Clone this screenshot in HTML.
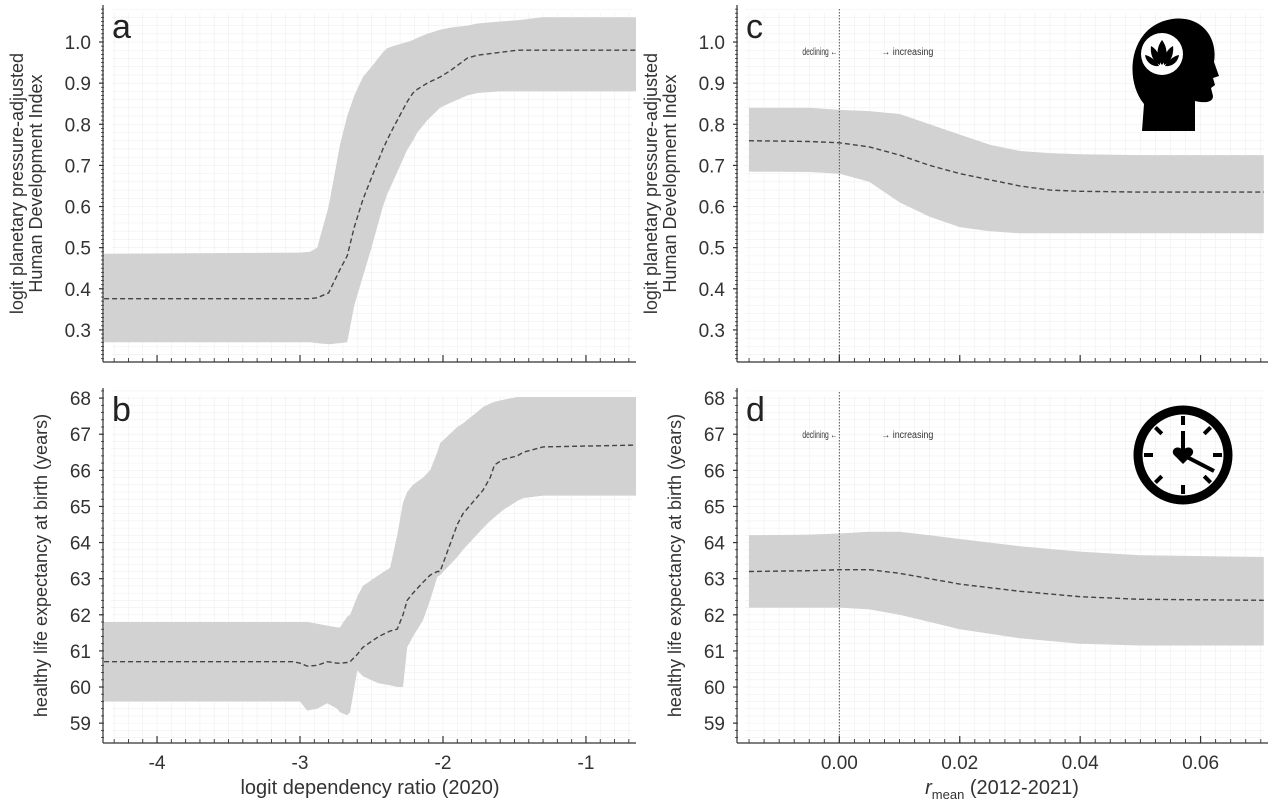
<!DOCTYPE html>
<html><head><meta charset="utf-8"><style>
html,body{margin:0;padding:0;background:#fff;}
svg{display:block;font-family:"Liberation Sans",sans-serif;}
</style></head><body>
<svg id="fig" width="1275" height="804" viewBox="0 0 1275 804" xmlns="http://www.w3.org/2000/svg">
<rect width="1275" height="804" fill="#fff"/>
</svg>
<script>
// ---- data ----
const aX   = [-4.37,-3.0,-2.93,-2.88,-2.8,-2.72,-2.67,-2.62,-2.56,-2.5,-2.42,-2.39,-2.35,-2.25,-2.21,-2.18,-2.11,-2.02,-1.95,-1.83,-1.76,-1.6,-1.48,-1.3,-0.65];
const aMean= [0.376,0.376,0.376,0.378,0.39,0.447,0.48,0.55,0.617,0.67,0.74,0.762,0.79,0.855,0.876,0.885,0.9,0.915,0.93,0.961,0.968,0.975,0.98,0.98,0.98];
const aLo  = [0.27,0.27,0.27,0.268,0.265,0.268,0.27,0.36,0.43,0.50,0.60,0.63,0.66,0.738,0.76,0.78,0.81,0.84,0.852,0.87,0.876,0.88,0.88,0.88,0.88];
const aHi  = [0.485,0.488,0.49,0.50,0.60,0.75,0.82,0.87,0.915,0.94,0.975,0.985,0.99,1.0,1.005,1.01,1.02,1.03,1.035,1.04,1.045,1.05,1.053,1.06,1.06];

const bX   = [-4.37,-3.05,-3.0,-2.95,-2.88,-2.81,-2.74,-2.72,-2.67,-2.65,-2.6,-2.56,-2.45,-2.37,-2.32,-2.28,-2.25,-2.21,-2.14,-2.09,-2.04,-2.02,-1.9,-1.86,-1.72,-1.67,-1.64,-1.58,-1.48,-1.44,-1.3,-0.65];
const bMean= [60.7,60.7,60.66,60.58,60.6,60.7,60.66,60.66,60.68,60.7,60.9,61.1,61.4,61.55,61.6,62.0,62.4,62.6,62.9,63.1,63.2,63.2,64.5,64.8,65.45,65.8,66.15,66.3,66.4,66.5,66.65,66.7];
const bLo  = [59.6,59.6,59.6,59.35,59.4,59.55,59.4,59.3,59.22,59.3,60.46,60.3,60.1,60.05,60.0,60.0,61.1,61.4,61.85,62.4,63.05,63.1,63.6,63.8,64.4,64.6,64.7,64.9,65.15,65.23,65.3,65.3];
const bHi  = [61.8,61.8,61.8,61.8,61.75,61.7,61.65,61.65,61.95,62.0,62.5,62.8,63.1,63.3,64.2,65.1,65.4,65.6,65.8,66.0,66.5,66.75,67.2,67.3,67.75,67.85,67.9,67.95,68.03,68.03,68.03,68.03];

const cX   = [-0.015,-0.005,0.0,0.005,0.01,0.015,0.02,0.025,0.03,0.035,0.04,0.05,0.0705];
const cMean= [0.76,0.758,0.755,0.745,0.725,0.70,0.68,0.665,0.65,0.64,0.637,0.635,0.635];
const cLo  = [0.685,0.684,0.68,0.66,0.61,0.575,0.55,0.54,0.535,0.535,0.535,0.535,0.535];
const cHi  = [0.84,0.84,0.835,0.832,0.825,0.80,0.775,0.75,0.735,0.73,0.727,0.725,0.725];

const dX   = [-0.015,-0.005,0.0,0.005,0.01,0.015,0.02,0.03,0.04,0.05,0.0705];
const dMean= [63.2,63.22,63.25,63.25,63.15,63.0,62.85,62.65,62.5,62.43,62.4];
const dLo  = [62.2,62.2,62.2,62.15,62.0,61.8,61.6,61.35,61.2,61.15,61.15];
const dHi  = [64.2,64.22,64.25,64.3,64.3,64.2,64.1,63.9,63.75,63.65,63.6];

const ticksTopY = ["0.3","0.4","0.5","0.6","0.7","0.8","0.9","1.0"];
const ticksBotY = ["59","60","61","62","63","64","65","66","67","68"];
const ticksLeftX = ["-4","-3","-2","-1"];
const ticksRightX = ["0.00","0.02","0.04","0.06"];

const NS="http://www.w3.org/2000/svg";
const svg=document.getElementById('fig');
function mk(tag,attrs,parent){const e=document.createElementNS(NS,tag);for(const k in attrs)e.setAttribute(k,attrs[k]);(parent||svg).appendChild(e);return e;}

function panel(cfg){
  const g=mk('g',{});
  
  
  const sx=v=>cfg.x0+(v-cfg.xd[0])/(cfg.xd[1]-cfg.xd[0])*(cfg.x1-cfg.x0);
  const sy=v=>cfg.y1-(v-cfg.yd[0])/(cfg.yd[1]-cfg.yd[0])*(cfg.y1-cfg.y0);
  const grid=mk('g',{stroke:'#efefef','stroke-width':0.6},g);
  
  
  for(let v=Math.ceil(cfg.xd[0]/cfg.xMinor)*cfg.xMinor; v<=cfg.xd[1]; v+=cfg.xMinor){
    mk('line',{x1:sx(v),x2:sx(v),y1:cfg.y0+8,y2:cfg.y1-6},grid);
  }
  for(let v=Math.ceil(cfg.yd[0]/cfg.yGrid)*cfg.yGrid; v<=cfg.yd[1]; v+=cfg.yGrid){
    mk('line',{x1:cfg.x0+8,x2:cfg.x1-4,y1:sy(v),y2:sy(v)},grid);
  }
  let d='';
  cfg.X.forEach((x,i)=>{d+=(i?'L':'M')+sx(x).toFixed(1)+','+sy(cfg.hi[i]).toFixed(1);});
  for(let i=cfg.X.length-1;i>=0;i--) d+='L'+sx(cfg.X[i]).toFixed(1)+','+sy(cfg.lo[i]).toFixed(1);
  const band=mk('path',{d:d+'Z',fill:'#d2d2d2'},g);
  
  
  if(cfg.zero){
    const zl=mk('line',{x1:sx(0),x2:sx(0),y1:cfg.y0+4,y2:cfg.y1,stroke:'#555','stroke-width':1,'stroke-dasharray':'1.5,1.5'},g);
    
    
  }
  let m='';
  cfg.X.forEach((x,i)=>{m+=(i?'L':'M')+sx(x).toFixed(1)+','+sy(cfg.mean[i]).toFixed(1);});
  const ml=mk('path',{d:m,fill:'none',stroke:'#444','stroke-width':1.4,'stroke-dasharray':'5,3'},g);
  
  
  const ax=mk('g',{stroke:'#333','stroke-width':1.2},g);
  
  
  mk('line',{x1:cfg.x0,x2:cfg.x0,y1:cfg.y0,y2:cfg.y1},ax);
  mk('line',{x1:cfg.x0,x2:cfg.x1,y1:cfg.y1,y2:cfg.y1},ax);
  for(let v=Math.ceil(cfg.yd[0]/cfg.yMinor)*cfg.yMinor; v<=cfg.yd[1]; v+=cfg.yMinor){
    mk('line',{x1:cfg.x0-2,x2:cfg.x0+1,y1:sy(v),y2:sy(v),'stroke-width':0.8},ax);
  }
  for(let v=Math.ceil(cfg.xd[0]/cfg.xTickMinor)*cfg.xTickMinor; v<=cfg.xd[1]; v+=cfg.xTickMinor){
    mk('line',{x1:sx(v),x2:sx(v),y1:cfg.y1-4,y2:cfg.y1,'stroke-width':0.9},ax);
  }
  cfg.yTicks.forEach(t=>{
    const v=parseFloat(t);
    mk('line',{x1:cfg.x0-4,x2:cfg.x0,y1:sy(v),y2:sy(v)},ax);
    const tx=mk('text',{x:cfg.x0-12,y:sy(v)+7,'text-anchor':'end','font-size':19,fill:'#333'},g);
    tx.textContent=t;
    
    
  });
  cfg.xTicks.forEach(t=>{
    const v=parseFloat(t);
    mk('line',{x1:sx(v),x2:sx(v),y1:cfg.y1-7,y2:cfg.y1},ax);
    if(cfg.showX){
      const tx=mk('text',{x:sx(v),y:cfg.y1+26,'text-anchor':'middle','font-size':19,fill:'#333'},g);
      tx.textContent=t;
      
      
    }
  });
  const lt=mk('text',{x:cfg.x0+9,y:cfg.y0+33,'font-size':34,fill:'#222'},g);
  lt.textContent=cfg.id;
  
  
  const cy=(cfg.y0+cfg.y1)/2;
  cfg.yTitle.forEach((line,i)=>{
    const xx=cfg.x0-cfg.titleOff[i];
    const tt=mk('text',{x:xx,y:cy,'text-anchor':'middle','font-size':18,fill:'#333',transform:`rotate(-90 ${xx} ${cy})`},g);
    tt.textContent=line;
    
    
  });
  if(cfg.zero){
    const t1=mk('text',{x:sx(0)-2,y:cfg.y0+50,'text-anchor':'end','font-size':10,fill:'#333',textLength:35,lengthAdjust:'spacingAndGlyphs'},g);
    t1.textContent='declining ←';
    
    
    const t2=mk('text',{x:sx(0)+42,y:cfg.y0+50,'font-size':10,fill:'#333',textLength:52,lengthAdjust:'spacingAndGlyphs'},g);
    t2.textContent='→ increasing';
    
    
  }
  return {sx,sy};
}

panel({id:'a',x0:103,x1:636,y0:5,y1:362,xd:[-4.378,-0.65],yd:[0.222,1.09],X:aX,mean:aMean,lo:aLo,hi:aHi,
  xMinor:0.1,yGrid:0.02,yMinor:0.01,xTickMinor:0.1,yTicks:ticksTopY,xTicks:ticksLeftX,showX:false,
  yTitle:['logit planetary pressure-adjusted','Human Development Index'],titleOff:[80,61]});
panel({id:'b',x0:103,x1:636,y0:388,y1:743,xd:[-4.378,-0.65],yd:[58.45,68.28],X:bX,mean:bMean,lo:bLo,hi:bHi,
  xMinor:0.1,yGrid:0.2,yMinor:0.2,xTickMinor:0.1,yTicks:ticksBotY,xTicks:ticksLeftX,showX:true,
  yTitle:['healthy life expectancy at birth (years)'],titleOff:[56]});
panel({id:'c',x0:737,x1:1268,y0:5,y1:362,xd:[-0.017,0.0712],yd:[0.222,1.09],X:cX,mean:cMean,lo:cLo,hi:cHi,zero:true,
  xMinor:0.0025,yGrid:0.02,yMinor:0.01,xTickMinor:0.0025,yTicks:ticksTopY,xTicks:ticksRightX,showX:false,
  yTitle:['logit planetary pressure-adjusted','Human Development Index'],titleOff:[80,61]});
panel({id:'d',x0:737,x1:1268,y0:388,y1:743,xd:[-0.017,0.0712],yd:[58.45,68.28],X:dX,mean:dMean,lo:dLo,hi:dHi,zero:true,
  xMinor:0.0025,yGrid:0.2,yMinor:0.2,xTickMinor:0.0025,yTicks:ticksBotY,xTicks:ticksRightX,showX:true,
  yTitle:['healthy life expectancy at birth (years)'],titleOff:[56]});
</script>
<svg style="position:absolute;left:0;top:0" width="1275" height="804" xmlns="http://www.w3.org/2000/svg" font-family="Liberation Sans, sans-serif">
  <text x="370" y="794" text-anchor="middle" font-size="20" fill="#333">logit dependency ratio (2020)</text>
  <text x="1002" y="794" text-anchor="middle" font-size="20" fill="#333"><tspan font-style="italic">r</tspan><tspan font-size="13" dy="5">mean</tspan><tspan dy="-5"> (2012-2021)</tspan></text>
  <g transform="translate(1132,18)">
    <path d="M10,113 L12,86 C-8,62 -4,8 40,1 C70,-3 86,20 82,44 L87,58 L81,60 L83,67 L79,70 L81,78 C81,85 72,85 63,83 L63,113 Z" fill="#000"/>
    <circle cx="30" cy="36" r="21" fill="#fff"/>
    <path d="M30,22 C36,30 36,40 30,47 C24,40 24,30 30,22 Z" fill="#000"/>
    <path d="M19,28 C26,32 29,40 28,47 C21,44 18,36 19,28 Z" fill="#000"/>
    <path d="M41,28 C34,32 31,40 32,47 C39,44 42,36 41,28 Z" fill="#000"/>
    <path d="M13,37 C19,38 25,44 27,48 C20,49 14,44 13,37 Z" fill="#000"/>
    <path d="M47,37 C41,38 35,44 33,48 C40,49 46,44 47,37 Z" fill="#000"/>
  </g>
  <g transform="translate(1183,455)">
    <circle r="45" fill="none" stroke="#000" stroke-width="9"/>
    <g stroke="#000" stroke-width="4" stroke-linecap="butt">
      <line x1="0" y1="-39" x2="0" y2="-30"/><line x1="0" y1="39" x2="0" y2="30"/>
      <line x1="-39" y1="0" x2="-30" y2="0"/><line x1="39" y1="0" x2="30" y2="0"/>
      <line x1="27.6" y1="-27.6" x2="21.2" y2="-21.2"/><line x1="-27.6" y1="-27.6" x2="-21.2" y2="-21.2"/>
      <line x1="27.6" y1="27.6" x2="21.2" y2="21.2"/><line x1="-27.6" y1="27.6" x2="-21.2" y2="21.2"/>
      <line x1="0" y1="0" x2="0" y2="-24"/>
      <line x1="0" y1="0" x2="31" y2="16"/>
    </g>
    <path d="M0,9 L-9,0 C-13,-5 -6,-11 0,-5 C6,-11 13,-5 9,0 Z" fill="#000"/>
  </g>
</svg>
</body></html>
